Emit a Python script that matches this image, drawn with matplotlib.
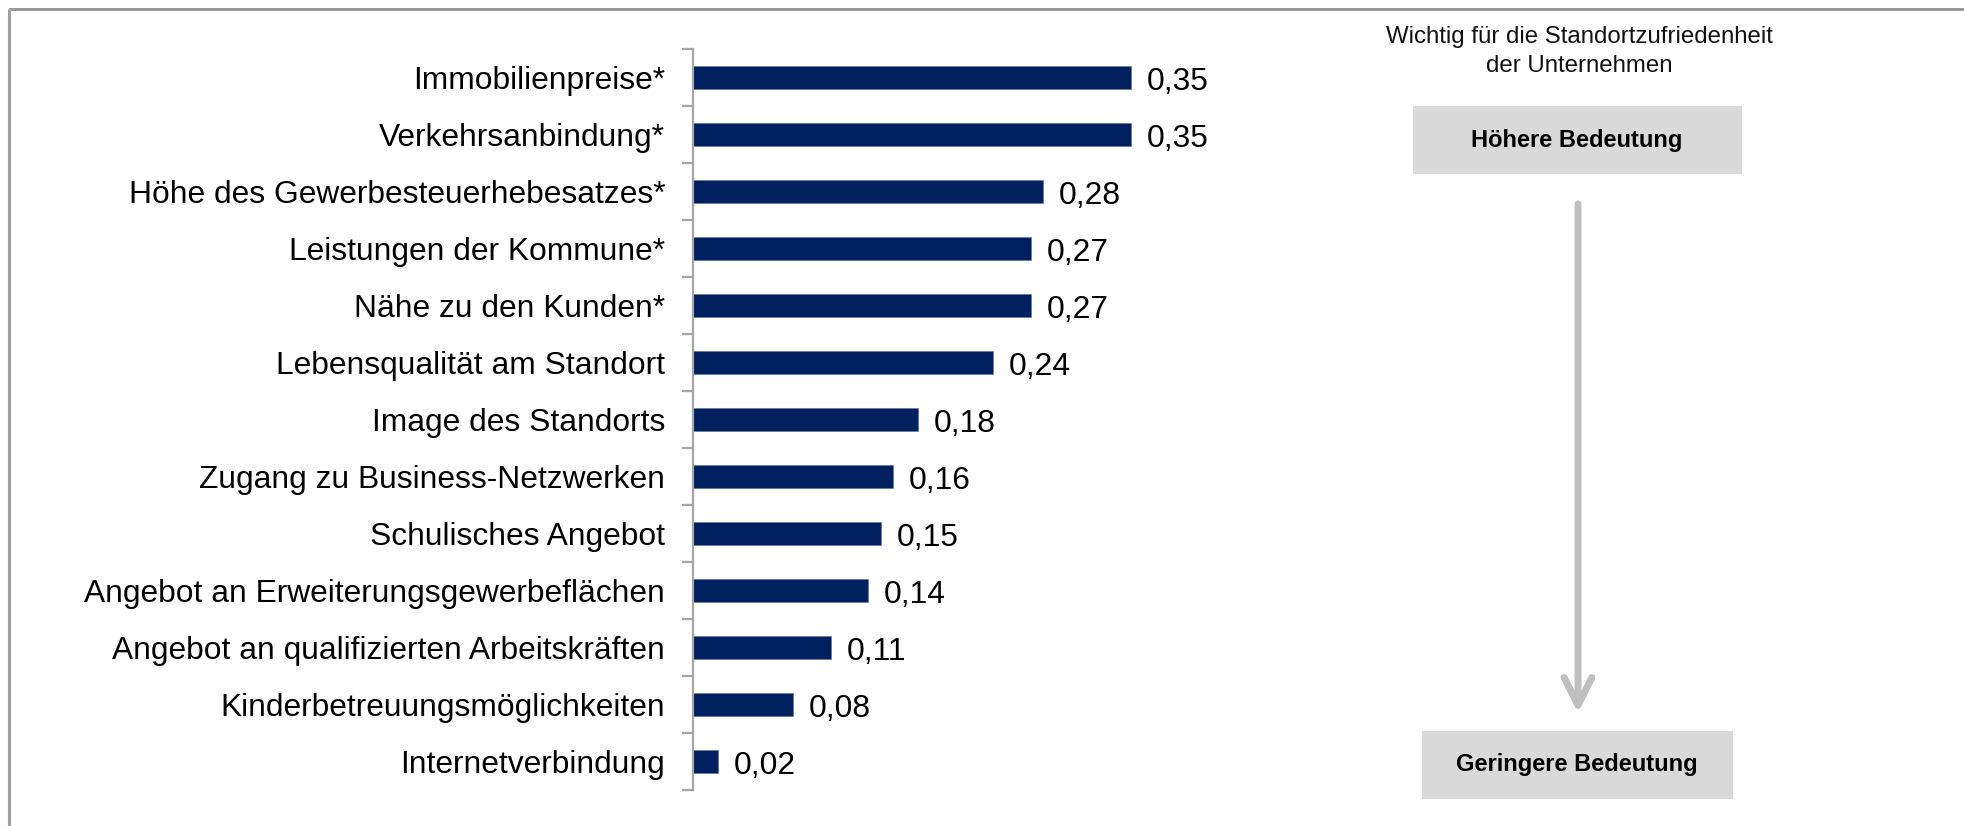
import matplotlib
matplotlib.use("Agg")
import matplotlib.pyplot as plt
from matplotlib.patches import Rectangle, FancyArrowPatch
from matplotlib.lines import Line2D
import numpy as np

plt.rcParams['font.family'] = ['Liberation Sans', 'DejaVu Sans']

# Data
categories = [
    "Immobilienpreise*",
    "Verkehrsanbindung*",
    "Höhe des Gewerbesteuerhebesatzes*",
    "Leistungen der Kommune*",
    "Nähe zu den Kunden*",
    "Lebensqualität am Standort",
    "Image des Standorts",
    "Zugang zu Business-Netzwerken",
    "Schulisches Angebot",
    "Angebot an Erweiterungsgewerbeflächen",
    "Angebot an qualifizierten Arbeitskräften",
    "Kinderbetreuungsmöglichkeiten",
    "Internetverbindung",
]
values = [0.35, 0.35, 0.28, 0.27, 0.27, 0.24, 0.18, 0.16, 0.15, 0.14, 0.11, 0.08, 0.02]

title_lines = ["Wichtig für die Standortzufriedenheit", "der Unternehmen"]
top_label = "Höhere Bedeutung"
bottom_label = "Geringere Bedeutung"

W, H = 1964, 826
DPI = 100
fig = plt.figure(figsize=(W / DPI, H / DPI), dpi=DPI)
fig.patch.set_facecolor("white")

BAR_COLOR = "#002060"
AXIS_GRAY = "#A6A6A6"
LABEL_SIZE = 22.9


def px_rect(x0, y0, x1, y1):
    """Figure-fraction rectangle from pixel edges (y measured from top)."""
    return [x0 / W, 1 - y1 / H, (x1 - x0) / W, (y1 - y0) / H]


# Bar chart axes
ax = fig.add_axes(px_rect(693, 49, 1193, 790))
ax.patch.set_alpha(0)
y = np.arange(len(categories))
ax.barh(y, values, height=0.4, color=BAR_COLOR, edgecolor="#5a6f9a", linewidth=0.4)
ax.set_xlim(0, 0.40)
ax.set_ylim(len(categories) - 0.5, -0.5)

ax.set_yticks(y)
ax.set_yticklabels(categories, fontsize=LABEL_SIZE, color="black")
ax.set_yticks(np.arange(-0.5, len(categories), 1.0), minor=True)
ax.tick_params(axis="y", which="major", length=0, pad=20)
ax.tick_params(axis="y", which="minor", length=8, width=1.6, color=AXIS_GRAY, direction="out")
ax.set_xticks([])
for side in ["top", "right", "bottom"]:
    ax.spines[side].set_visible(False)
ax.spines["left"].set_color(AXIS_GRAY)
ax.spines["left"].set_linewidth(1.6)

for yi, v in zip(y, values):
    ax.annotate(f"{v:.2f}".replace(".", ","), xy=(v, yi), xytext=(11.5, -9.0),
                textcoords="offset points", ha="left", va="baseline",
                fontsize=LABEL_SIZE, color="black", annotation_clip=False)

# Overlay in pixel coordinates for the side panel and frame
ov = fig.add_axes([0, 0, 1, 1])
ov.set_xlim(0, W)
ov.set_ylim(H, 0)
ov.axis("off")
ov.patch.set_alpha(0)

# Frame (top and left edges)
ov.add_line(Line2D([9, W], [9, 9], color="#999999", lw=2.2, solid_capstyle="butt"))
ov.add_line(Line2D([9, 9], [9, H], color="#A0A0A0", lw=2.2, solid_capstyle="butt"))

# Side panel title
for i, line in enumerate(title_lines):
    ov.text(1579, 43 + 29 * i, line, ha="center", va="baseline", fontsize=17.3, color="#111111")

# Boxes
ov.add_patch(Rectangle((1413, 106), 329, 68, facecolor="#D9D9D9", edgecolor="none"))
ov.text(1577, 140, top_label, ha="center", va="center", fontsize=17, fontweight="bold", color="black")
ov.add_patch(Rectangle((1422, 731), 311, 68, facecolor="#D9D9D9", edgecolor="none"))
ov.text(1577, 765, bottom_label, ha="center", va="center", fontsize=17, fontweight="bold", color="black")

# Arrow
arrow = FancyArrowPatch((1578, 204), (1578, 713), arrowstyle="->,head_length=0.4,head_width=0.2",
                        mutation_scale=50, color="#BFBFBF", lw=5, capstyle="round", joinstyle="round",
                        shrinkA=0, shrinkB=0)
ov.add_patch(arrow)

fig.savefig("out.png", dpi=DPI)
